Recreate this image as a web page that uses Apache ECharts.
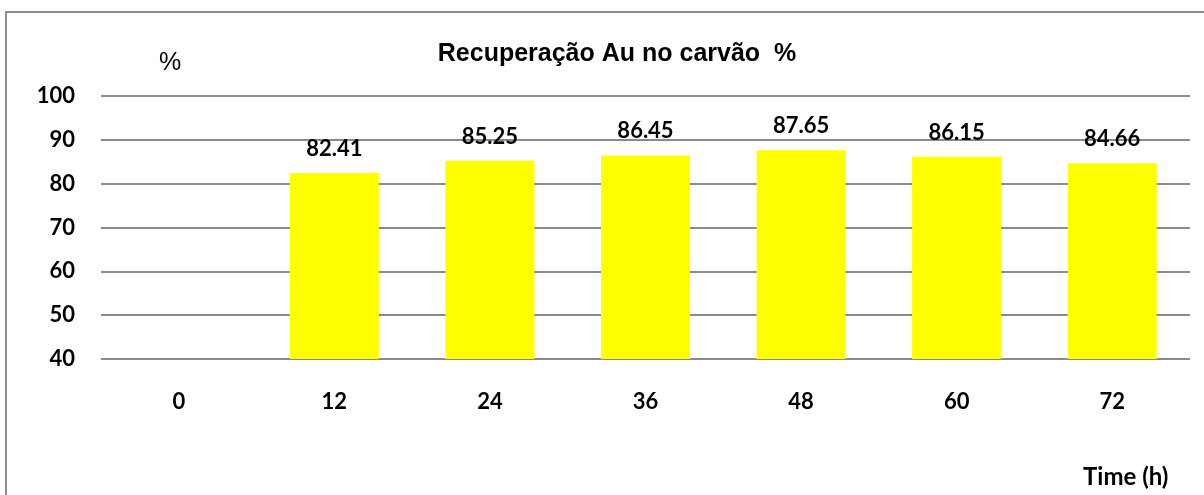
<!DOCTYPE html>
<html>
<head>
<meta charset="utf-8">
<script src="https://cdn.jsdelivr.net/npm/echarts@6/dist/echarts.min.js"></script>
<style>
    html, body { margin: 0; padding: 0; background: #fff; }
    #chart { width: 1204px; height: 495px; }
</style>
</head>
<body>
<div id="chart"></div>
<script>
// dados
var categories = ["0", "12", "24", "36", "48", "60", "72"];
var recuperacao = [null, 82.41, 85.25, 86.45, 87.65, 86.15, 84.66];
var yMin = 40, yMax = 100, yStep = 10;

(function() {
    var myChart = echarts.init(document.getElementById("chart"));
    var labelFont = "Lato, 'Open Sans', sans-serif";

    var option = {
        animation: false,
        title: [{
            text: "Recuperação Au no carvão  %",
            left: 612,
            top: 37,
            textAlign: "center",
            textStyle: {
                fontFamily: "'Liberation Sans', Arial, sans-serif",
                fontWeight: "bold",
                fontSize: 25,
                color: "#000"
            }
        }, {
            // rótulo do eixo y
            text: "%",
            left: 165,
            top: 46,
            textAlign: "center",
            textStyle: {
                fontFamily: "'Liberation Sans', Arial, sans-serif",
                fontWeight: "normal",
                fontSize: 25,
                color: "#000"
            }
        }],
        grid: {
            left: 101,
            right: 14,
            top: 96,
            bottom: 136
        },
        xAxis: [{
            type: "category",
            data: categories,
            axisTick: { show: false },
            axisLine: { show: false },
            axisLabel: {
                margin: 32,
                color: "#000",
                fontFamily: labelFont,
                fontWeight: "bold",
                fontSize: 22
            }
        }],
        yAxis: [{
            type: "value",
            min: yMin,
            max: yMax,
            interval: yStep,
            axisLine: { show: false },
            axisTick: { show: false },
            axisLabel: {
                margin: 26,
                color: "#000",
                fontFamily: labelFont,
                fontWeight: "bold",
                fontSize: 22
            },
            splitLine: {
                lineStyle: { color: "#8a8a8a", width: 2 }
            }
        }],
        series: [{
            type: "bar",
            barWidth: 89,
            data: recuperacao,
            itemStyle: { color: "#ffff00" },
            label: {
                show: true,
                position: "top",
                distance: 13,
                color: "#000",
                fontFamily: labelFont,
                fontWeight: "bold",
                fontSize: 22,
                formatter: function(p) {
                    return p.value == null ? "" : p.value.toFixed(2);
                }
            }
        }],
        graphic: [{
            type: "rect",
            shape: { x: 6, y: 12, width: 1220, height: 500 },
            style: { fill: null, stroke: "#8c8c8c", lineWidth: 2 },
            silent: true
        }, {
            type: "text",
            left: 1083,
            top: 465,
            style: {
                text: "Time (h)",
                fontSize: 24,
                fontWeight: "bold",
                fontFamily: "Lato",
                fill: "#000"
            }
        }]
    };

    myChart.setOption(option);

    window.addEventListener("resize", function() {
        myChart.resize();
    })
})();
</script>
</body>
</html>
